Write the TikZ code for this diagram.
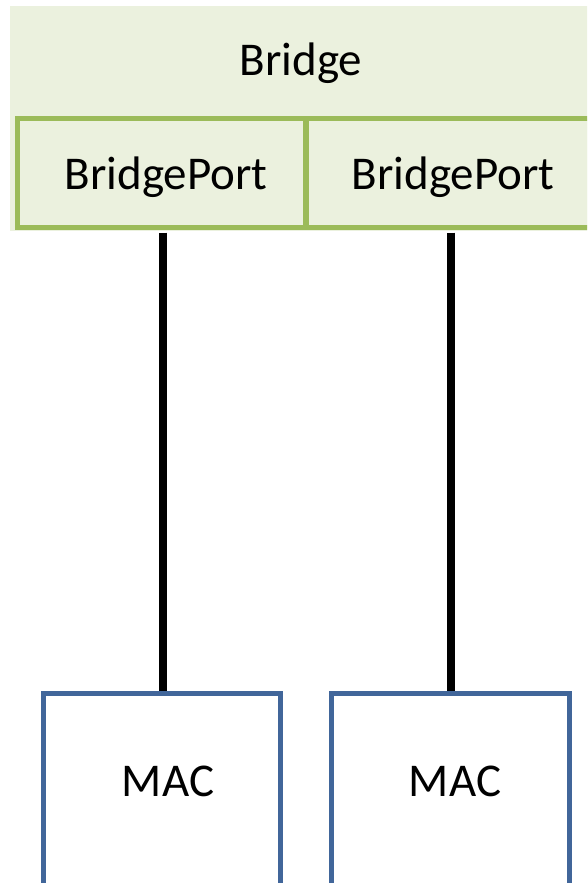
\documentclass[tikz,border=0pt]{standalone}
\usepackage{fontspec}
\setmainfont{Carlito}
\definecolor{portgreen}{HTML}{9BBB59}
\definecolor{paleGreen}{HTML}{EBF1DE}
\definecolor{macblue}{HTML}{41669A}
\tikzset{
  bgbox/.style={fill=paleGreen, draw=none, inner sep=0pt, anchor=north west},
  portbox/.style={rectangle, draw=portgreen, fill=paleGreen, line width=5pt, inner sep=0pt},
  macbox/.style={rectangle, draw=macblue, fill=white, line width=5pt, inner sep=0pt},
  lbl/.style={anchor=base, inner sep=0pt, font=\fontsize{47pt}{50pt}\selectfont},
  wire/.style={line width=8pt, black}
}
\begin{document}
\begin{tikzpicture}[x=1pt,y=-1pt]
\useasboundingbox (0,0) rectangle (587,883);
\begin{scope}
\clip (0,0) rectangle (587,883);
% Bridge background
\node[bgbox, minimum width=590pt, minimum height=225pt] (bridge) at (10,6) {};
\node[lbl] (bridgetxt) at (301,75) {Bridge};
% ports
\node[portbox, minimum width=288pt, minimum height=109pt] (p1) at (161.5,173) {};
\node[portbox, minimum width=284pt, minimum height=109pt] (p2) at (448,173) {};
\node[lbl] (p1txt) at (166,189) {BridgePort};
\node[lbl] (p2txt) at (453,189) {BridgePort};
% MAC boxes
\node[macbox, minimum width=237pt, minimum height=250pt] (m1) at (162,818) {};
\node[macbox, minimum width=238pt, minimum height=250pt] (m2) at (450.5,818) {};
\node[lbl] (m1txt) at (168,796) {MAC};
\node[lbl] (m2txt) at (455,796) {MAC};
% wires
\draw[wire] (p1.south -| 163,0) ++(0,2.5) -- (m1.north -| 163,0);
\draw[wire] (p2.south -| 451,0) ++(0,2.5) -- (m2.north -| 451,0);
\end{scope}
\end{tikzpicture}
\end{document}
